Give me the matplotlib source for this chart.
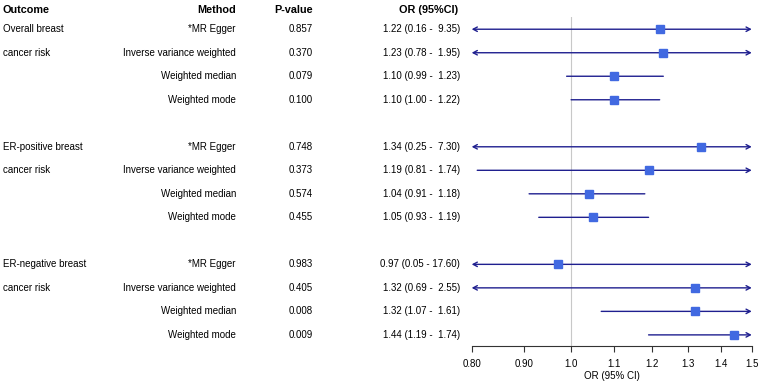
import matplotlib.pyplot as plt
import matplotlib.transforms as mtransforms
import numpy as np

plt.rcParams['font.family'] = ['Liberation Sans', 'DejaVu Sans']

outcome_lines = ["Overall breast", "cancer risk", "ER-positive breast", "cancer risk",
                 "ER-negative breast", "cancer risk"]
methods = ["*MR Egger", "Inverse variance weighted", "Weighted median", "Weighted mode"] * 3
p_vals = ["0.857", "0.370", "0.079", "0.100",
          "0.748", "0.373", "0.574", "0.455",
          "0.983", "0.405", "0.008", "0.009"]
or_vals = [1.22, 1.23, 1.10, 1.10, 1.34, 1.19, 1.04, 1.05, 0.97, 1.32, 1.32, 1.44]
ci_lo = [0.16, 0.78, 0.99, 1.00, 0.25, 0.81, 0.91, 0.93, 0.05, 0.69, 1.07, 1.19]
ci_hi = [9.35, 1.95, 1.23, 1.22, 7.30, 1.74, 1.18, 1.19, 17.60, 2.55, 1.61, 1.74]
xticks = [0.8, 0.9, 1.0, 1.1, 1.2, 1.3, 1.4, 1.5]
xticklabels = ["0.80", "0.90", "1.0", "1.1", "1.2", "1.3", "1.4", "1.5"]

# row positions: 4 rows per group, one blank row between groups
rows = [g * 5 + i for g in range(3) for i in range(4)]
xmin, xmax = 0.8, 1.5
W, H = 761, 383

fig = plt.figure(figsize=(W / 100, H / 100), dpi=100)
ax = fig.add_axes([471.7 / W, 1 - 345.7 / H, 280 / W, 328.7 / H])
ax.set_xscale('log')
ax.set_xlim(xmin, xmax)
ax.set_ylim(13.46, -0.52)

ax.axvline(1.0, color='#c8c8c8', lw=0.8, zorder=0)

line_col = '#1f1f8f'
for y, o, lo, hi in zip(rows, or_vals, ci_lo, ci_hi):
    left = max(lo, xmin)
    right = min(hi, xmax)
    if lo < xmin and hi > xmax:
        style = '<->,head_length=0.3,head_width=0.16'
    elif hi > xmax:
        style = '->,head_length=0.3,head_width=0.16'
    elif lo < xmin:
        style = '<-,head_length=0.3,head_width=0.16'
    else:
        style = '-'
    ax.annotate('', xy=(right, y), xytext=(left, y),
                arrowprops=dict(arrowstyle=style, color=line_col, lw=1.0,
                                shrinkA=0, shrinkB=0),
                annotation_clip=False)
    ax.plot(o, y, 's', color='#4169e1', ms=5.5, zorder=3)

ax.set_xticks(xticks)
ax.set_xticklabels(xticklabels)
ax.xaxis.set_minor_locator(plt.NullLocator())
ax.set_yticks([])
for s in ['top', 'left', 'right']:
    ax.spines[s].set_visible(False)
ax.spines['bottom'].set_color('#333333')
ax.tick_params(axis='x', labelsize=7, length=4, color='#333333', pad=5.5)
ax.set_xlabel('OR (95% CI)', fontsize=7, labelpad=1.5)

tr = mtransforms.blended_transform_factory(fig.transFigure, ax.transData)
fs = 7
hfs = 7.8
hy = -0.82
fig.text(3 / W, hy, "Outcome", transform=tr, fontsize=hfs, weight='bold', va='center', ha='left')
fig.text(236 / W, hy, "Method", transform=tr, fontsize=hfs, weight='bold', va='center', ha='right')
fig.text(313 / W, hy, "P-value", transform=tr, fontsize=hfs, weight='bold', va='center', ha='right')
fig.text(458 / W, hy, "OR (95%CI)", transform=tr, fontsize=hfs, weight='bold', va='center', ha='right')

for g in range(3):
    fig.text(3 / W, g * 5, outcome_lines[2 * g], transform=tr, fontsize=fs, va='center', ha='left')
    fig.text(3 / W, g * 5 + 1, outcome_lines[2 * g + 1], transform=tr, fontsize=fs, va='center', ha='left')

for y, m, p, o, lo, hi in zip(rows, methods, p_vals, or_vals, ci_lo, ci_hi):
    fig.text(236 / W, y, m, transform=tr, fontsize=fs, va='center', ha='right')
    fig.text(313 / W, y, p, transform=tr, fontsize=fs, va='center', ha='right')
    fig.text(460 / W, y, "%.2f (%.2f - %5.2f)" % (o, lo, hi), transform=tr,
             fontsize=fs, va='center', ha='right')

fig.savefig('out.png', dpi=100)
